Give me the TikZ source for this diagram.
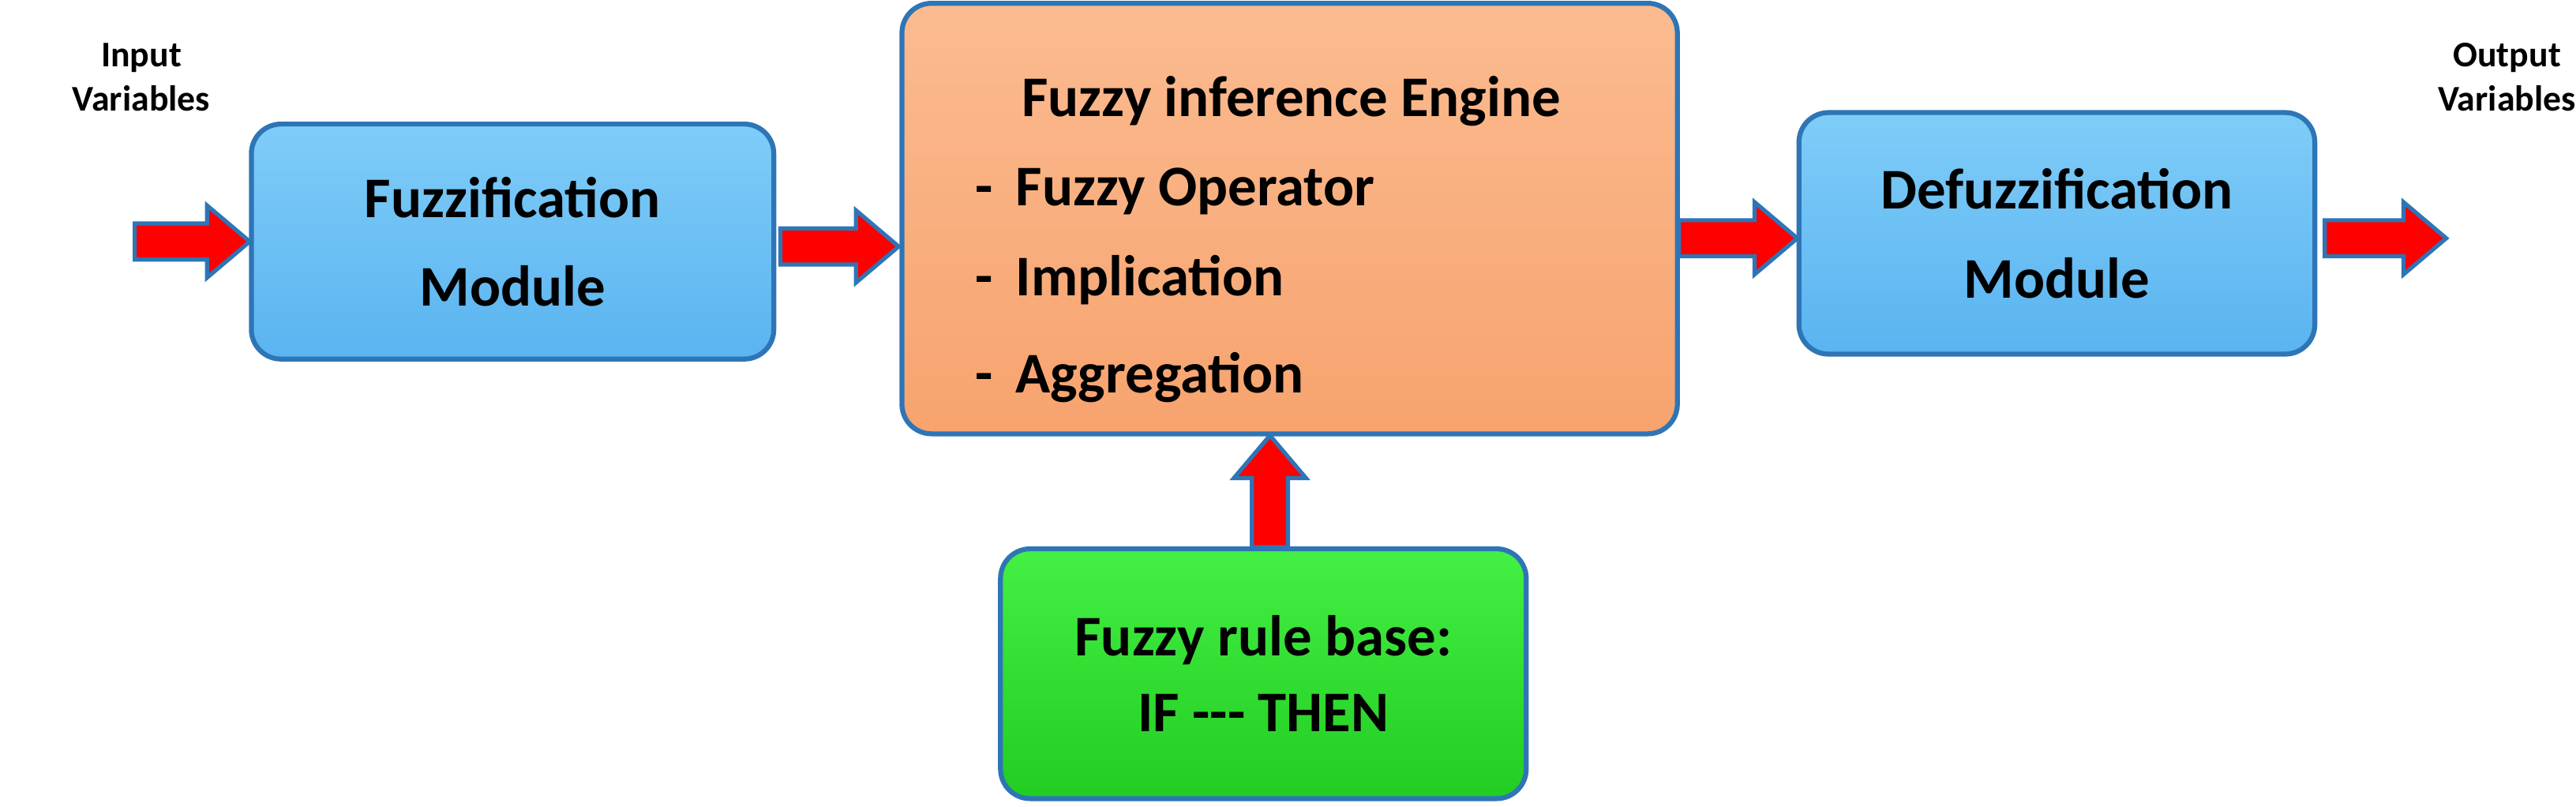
\documentclass[tikz,border=0pt]{standalone}
\usepackage{fontspec}
\setmainfont{Carlito}
\definecolor{bord}{HTML}{2E75B6}
\definecolor{aro}{HTML}{FF0000}
\definecolor{bl1}{HTML}{7FCCF8}
\definecolor{bl2}{HTML}{5AB4F0}
\definecolor{or1}{HTML}{FBBB90}
\definecolor{or2}{HTML}{F7A36E}
\definecolor{gr1}{HTML}{44F044}
\definecolor{gr2}{HTML}{22CC22}
\begin{document}
\begin{tikzpicture}[x=1pt,y=-1pt,
 box/.style={draw=bord,line width=3pt,rounded corners=18pt,font=\bfseries\fontsize{35}{44}\selectfont,align=center,inner sep=0pt},
 arrow/.style={draw=bord,line width=2.5pt,fill=aro,line join=miter},
 lab/.style={font=\bfseries\fontsize{22}{27}\selectfont,align=center}]
\useasboundingbox (0,0) rectangle (1568,491);
\newcommand\blockarrow[3]{% center, rotation, length
 \draw[arrow,shift={(#1)},rotate=#2] (-#3/2,-11) -- (#3/2-26,-11) -- (#3/2-26,-22) -- (#3/2,0) -- (#3/2-26,22) -- (#3/2-26,11) -- (-#3/2,11) -- cycle;}
\node[box,top color=bl1,bottom color=bl2,minimum width=318pt,minimum height=143pt] (fz) at (312,147) {Fuzzification\\[10pt]Module};
\node[box,top color=or1,bottom color=or2,minimum width=472pt,minimum height=262pt] (fie) at (785,133) {};
\node[box,top color=bl1,bottom color=bl2,minimum width=314pt,minimum height=147pt] (dz) at (1252,142) {Defuzzification\\[10pt]Module};
\node[box,top color=gr1,bottom color=gr2,minimum width=320pt,minimum height=152pt] (rb) at (769,410) {Fuzzy rule base:\\[2pt]IF {-}{-}{-} THEN};
\node[font=\bfseries\fontsize{35}{44}\selectfont,anchor=base] (t0) at (786,71) {Fuzzy inference Engine};
\node[font=\bfseries\fontsize{35}{44}\selectfont,anchor=base west] (t1) at (590,125) {-\hspace{14pt}Fuzzy Operator};
\node[font=\bfseries\fontsize{35}{44}\selectfont,anchor=base west] (t2) at (590,180) {-\hspace{14pt}Implication};
\node[font=\bfseries\fontsize{35}{44}\selectfont,anchor=base west] (t3) at (590,239) {-\hspace{14pt}Aggregation};
\node[lab] (in) at (86,47) {Input\\Variables};
\node[lab] (out) at (1526,47) {Output\\Variables};
\coordinate (a1) at (117,147);
\coordinate (a2) at (511,150);
\coordinate (a3) at (1058,145);
\coordinate (a4) at (1452,145);
\coordinate (a5) at (773,299);
\blockarrow{a1}{0}{70}
\blockarrow{a2}{0}{72}
\blockarrow{a3}{0}{72}
\blockarrow{a4}{0}{74}
\blockarrow{a5}{90}{68}
\end{tikzpicture}
\end{document}
